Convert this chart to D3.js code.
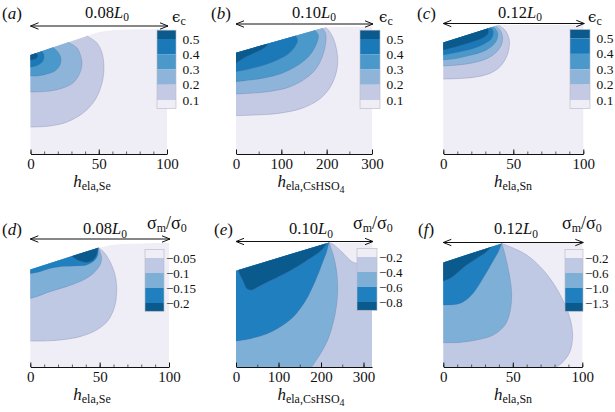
<!DOCTYPE html>
<html><head><meta charset="utf-8">
<script src="https://cdn.jsdelivr.net/npm/d3@7"></script>
<style>body{margin:0;background:#fff} text{font-family:"Liberation Serif","Times New Roman",serif;fill:#111}</style>
</head><body><svg id="c" width="615" height="412"></svg>
<script>
// ---------- colours ----------
const seqColors = ["#efedf5","#c5cae4","#8eb5d9","#4b98ca","#1b79b7","#0b5a8e"];
const negColors = ["#efedf5","#c0c9e4","#7eb0d7","#1f7fbf","#0b5a8e"];

// ---------- tick labels ----------
const xTicksA = [0,50,100], xTicksB = [0,100,200,300], xTicksC = [0,50,100];
const xTicksD = [0,50,100], xTicksE = [0,100,200,300], xTicksF = [0,50,100];
const cbLabelsA = ["0.5","0.4","0.3","0.2","0.1"];
const cbLabelsB = ["0.5","0.4","0.3","0.2","0.1"];
const cbLabelsC = ["0.5","0.4","0.3","0.2","0.1"];
const cbLabelsD = ["\u22120.05","\u22120.1","\u22120.15","\u22120.2"];
const cbLabelsE = ["\u22120.2","\u22120.4","\u22120.6","\u22120.8"];
const cbLabelsF = ["\u22120.2","\u22120.6","\u22121.0","\u22121.3"];
const spanLabels = ["0.08","0.10","0.12","0.08","0.10","0.12"];

// ---------- contour data: [h, normalised height] ----------
// (a) eps_c, Se
const domA = [[41.4,0.944],[50.9,0.976],[63.4,0.992],[80.2,0.998],[100,0.998]];
const cornA = [[100,0],[0,0],[0,0.792]];
const regA1 = [[41.4,0.944],[48.7,0.888],[52.4,0.808],[53.8,0.696],[52.4,0.568],[47.3,0.432],[38.5,0.328],[26.7,0.256],[14.3,0.224],[0,0.216]];
const regA2 = [[27.5,0.894],[34.1,0.848],[37.0,0.776],[37.7,0.712],[35.5,0.632],[31.1,0.568],[23.8,0.528],[14.3,0.504],[0,0.496]];
const regA3 = [[16.5,0.854],[20.1,0.816],[22.3,0.768],[21.6,0.712],[17.9,0.664],[12.1,0.640],[4.8,0.624],[0,0.624]];
const regA4 = [[8.4,0.822],[9.9,0.792],[9.2,0.744],[5.5,0.712],[1.1,0.696],[0,0.696]];
const regA5 = [[4.2,0.808],[5.5,0.784],[3.5,0.760],[0,0.750]];
// (b) eps_c, CsHSO4
const domB = [[196.3,1.013],[250,1.018],[300,1.018]];
const cornB = [[300,0],[0,0],[0,0.811]];
const regB1 = [[196.3,1.013],[203.7,0.992],[214.7,0.925],[222.1,0.832],[224.3,0.725],[218.4,0.619],[203.7,0.512],[181.6,0.432],[144.9,0.365],[93.4,0.325],[41.9,0.312],[0,0.307]];
const regB2 = [[190.4,1.008],[197.8,0.965],[197.8,0.885],[190.4,0.779],[174.3,0.672],[148.5,0.592],[115.4,0.533],[71.3,0.499],[27.2,0.485],[0,0.480]];
const regB3 = [[174.3,0.991],[181.6,0.952],[177.9,0.885],[163.2,0.792],[137.5,0.712],[100.7,0.645],[56.6,0.605],[19.9,0.587],[0,0.579]];
const regB4 = [[131.6,0.947],[136.0,0.912],[130.1,0.859],[111.8,0.792],[82.4,0.739],[49.3,0.699],[19.9,0.672],[0,0.659]];
const regB5 = [[71.3,0.884],[64.0,0.853],[41.9,0.811],[19.9,0.773],[5.1,0.739],[0,0.725]];
// (c) eps_c, Sn
const domC = [[39.3,1.032],[100,1.035]];
const cornC = [[100,0],[0,0],[0,0.893]];
const regC1 = [[39.3,1.032],[44.0,0.992],[46.9,0.925],[47.1,0.859],[45.2,0.779],[40.5,0.699],[33.3,0.645],[21.4,0.613],[9.5,0.603],[0,0.600]];
const regC2 = [[37.6,1.026],[40.9,0.987],[42.4,0.925],[40.9,0.859],[36.9,0.805],[29.8,0.757],[19.0,0.725],[7.1,0.709],[0,0.704]];
const regC3 = [[35.7,1.019],[38.6,0.979],[38.6,0.925],[35.7,0.872],[29.8,0.827],[20.2,0.792],[9.5,0.765],[0,0.752]];
const regC4 = [[34.0,1.013],[35.7,0.979],[34.5,0.925],[29.8,0.885],[21.4,0.845],[11.9,0.819],[0,0.792]];
const regC5 = [[32.1,1.006],[32.1,0.965],[27.4,0.925],[19.0,0.891],[9.5,0.859],[0,0.832]];
// (d) sigma_m, Se
const domD = [[49.0,0.955],[62.3,0.981],[79.1,0.989],[100,0.995]];
const cornD = [[100,0],[0,0],[0,0.781]];
const regD1 = [[49.0,0.955],[52.7,0.923],[57.5,0.843],[61.1,0.736],[62.3,0.629],[61.1,0.496],[56.3,0.376],[47.8,0.296],[35.8,0.243],[21.4,0.216],[9.4,0.208],[0,0.208]];
const regD2 = [[49.0,0.955],[50.2,0.923],[51.4,0.869],[50.2,0.816],[45.4,0.749],[38.2,0.696],[26.2,0.643],[14.2,0.603],[4.6,0.563],[0,0.549]];
const regD3 = [[49.0,0.955],[48.6,0.896],[46.6,0.856],[40.6,0.816],[31.0,0.808],[21.4,0.803],[14.2,0.789],[7.0,0.763],[0,0.747]];
const regD4 = [[49.0,0.955],[47.8,0.896],[45.4,0.856],[41.1,0.837],[35.8,0.848],[32.2,0.869],[29.8,0.887]];
// (e) sigma_m, CsHSO4
const domE = [[218.8,0.997],[320,0.997]];
const cornE = [[320,0],[0,0],[0,0.771]];
const regE1 = [[218.8,0.997],[229.0,0.981],[248.6,0.923],[276.1,0.837],[300,0.829],[320,0.829]];
const regE2 = [[218.8,0.997],[229.0,0.896],[236.9,0.763],[239.2,0.603],[232.9,0.416],[217.3,0.229],[201.6,0.123],[178.0,0]];
const regE3 = [[218.8,0.997],[213.3,0.923],[201.6,0.816],[185.9,0.683],[162.3,0.523],[131.0,0.389],[83.9,0.283],[36.9,0.229],[0,0.208]];
const regE4 = [[213.3,0.991],[201.6,0.936],[162.3,0.843],[123.1,0.763],[83.9,0.696],[52.5,0.643],[36.9,0.616],[25.1,0.629],[17.3,0.683],[9.4,0.736],[5.5,0.776]];
// (f) sigma_m, Sn
const domF = [[42.0,0.989],[100,0.992]];
const cornF = [[100,0],[0,0],[0,0.837]];
const regF1 = [[42.0,0.989],[48.0,0.963],[60.0,0.896],[71.9,0.776],[81.5,0.629],[88.7,0.469],[92.3,0.336],[93.0,0.229],[91.1,0.123],[86.3,0.043],[81.5,0]];
const regF2 = [[42.0,0.989],[43.2,0.949],[45.6,0.843],[48.0,0.709],[49.2,0.576],[48.0,0.443],[44.4,0.336],[36.0,0.256],[24.0,0.216],[12.0,0.197],[0,0.195]];
const regF3 = [[42.0,0.989],[39.6,0.923],[34.8,0.829],[30.0,0.736],[24.0,0.629],[19.2,0.563],[12.0,0.509],[0,0.496]];
const regF4 = [[34.8,0.963],[31.2,0.923],[24.0,0.869],[16.8,0.816],[9.6,0.749],[4.8,0.709],[0,0.688]];

// ---------- layout ----------
const svg = d3.select("#c");
const panels = [
 {L:"a",xd:[0,100],xr:[30.5,167],yr:[154,29],ticks:xTicksA,minor:10,dom:domA,corn:cornA,
  regs:[[regA1,[[0,0.792]]],[regA2,[[0,0.792]]],[regA3,[[0,0.792]]],[regA4,[[0,0.792]]],[regA5,[[0,0.792]]]],
  colors:seqColors,cbx:157,cbw:19,cbr:[39,100],cbl:cbLabelsA,sym:"eps",symx:172,
  sub:"ela,Se",lx:92,arrowY:26,titleX:107,row:0},
 {L:"b",xd:[0,300],xr:[236,372],yr:[154,29],ticks:xTicksB,minor:50,dom:domB,corn:cornB,
  regs:[[regB1,[[0,0.811]]],[regB2,[[0,0.811]]],[regB3,[[0,0.811]]],[regB4,[[0,0.811]]],[regB5,[[0,0.811]]]],
  colors:seqColors,cbx:360,cbw:20,cbr:[39,100],cbl:cbLabelsB,sym:"eps",symx:379,
  sub:"ela,CsHSO",sub2:"4",lx:311,arrowY:24,titleX:314,row:0},
 {L:"c",xd:[0,100],xr:[443.3,583.3],yr:[154,29],ticks:xTicksC,minor:10,dom:domC,corn:cornC,
  regs:[[regC1,[[0,0.893]]],[regC2,[[0,0.893]]],[regC3,[[0,0.893]]],[regC4,[[0,0.893]]],[regC5,[[0,0.893]]]],
  colors:seqColors,cbx:570,cbw:20,cbr:[38.5,100],cbl:cbLabelsC,sym:"eps",symx:588,
  sub:"ela,Sn",lx:513,arrowY:23.5,titleX:520,row:0},
 {L:"d",xd:[0,100],xr:[30.3,169],yr:[367,242],ticks:xTicksD,minor:10,dom:domD,corn:cornD,
  regs:[[regD1,[[0,0.781]]],[regD2,[[0,0.781]]],[regD3,[[0,0.781]]],[regD4,[]]],
  colors:negColors,cbx:145,cbw:19,cbr:[258,303],cbl:cbLabelsD,sym:"sig",symx:147,
  sub:"ela,Se",lx:92,arrowY:239,titleX:105,row:1},
 {L:"e",xd:[0,320],xr:[236,372],yr:[367,242],ticks:xTicksE,minor:50,dom:domE,corn:cornE,
  regs:[[regE1,[[320,0],[0,0],[0,0.771]]],[regE2,[[0,0],[0,0.771]]],[regE3,[[0,0.771]]],[regE4,[]]],
  colors:negColors,cbx:357,cbw:20,cbr:[257,302],cbl:cbLabelsE,sym:"sig",symx:353,
  sub:"ela,CsHSO",sub2:"4",lx:311,arrowY:241.5,titleX:311,row:1},
 {L:"f",xd:[0,100],xr:[443.3,582.3],yr:[367,242],ticks:xTicksF,minor:10,dom:domF,corn:cornF,
  regs:[[regF1,[[0,0],[0,0.837]]],[regF2,[[0,0.837]]],[regF3,[[0,0.837]]],[regF4,[[0,0.837]]]],
  colors:negColors,cbx:565,cbw:18,cbr:[258,303],cbl:cbLabelsF,sym:"sig",symx:562,
  sub:"ela,Sn",lx:513,arrowY:242.5,titleX:516,row:1}
];

function pathOf(x,y,curve,edges){
  const ln = d3.line().x(d=>x(d[0])).y(d=>y(d[1])).curve(d3.curveCatmullRom.alpha(0.5));
  let p = ln(curve);
  edges.forEach(e=>{p += "L"+x(e[0])+","+y(e[1]);});
  return p+"Z";
}

panels.forEach((P,pi)=>{
  const g = svg.append("g");
  const x = d3.scaleLinear().domain(P.xd).range(P.xr);
  const y = d3.scaleLinear().domain([0,1]).range(P.yr);
  const cl = d3.line().x(d=>x(d[0])).y(d=>y(d[1])).curve(d3.curveCatmullRom.alpha(0.5));
  // domain
  g.append("path").attr("d",pathOf(x,y,P.dom,P.corn)).attr("fill",P.colors[0]);
  P.regs.forEach((r,i)=>{
    g.append("path").attr("d",pathOf(x,y,r[0],r[1])).attr("fill",P.colors[i+1]);
    g.append("path").attr("d",cl(r[0])).attr("fill","none")
      .attr("stroke","#5a6a98").attr("stroke-opacity",0.45).attr("stroke-width",0.6);
  });
  // axis
  const base = P.yr[0];
  const ax = g.append("g").attr("transform",`translate(0,${base})`);
  const minorVals = d3.range(P.xd[0], P.xd[1]+1e-9, P.minor);
  ax.append("g").call(d3.axisBottom(x).tickValues(minorVals).tickSize(-2.5).tickFormat(""))
    .call(s=>s.select(".domain").remove()).selectAll("line").attr("stroke","#222").attr("stroke-width",0.7);
  const mj = ax.append("g").call(d3.axisBottom(x).tickValues(P.ticks).tickSizeInner(-4.5).tickSizeOuter(0).tickPadding(4));
  mj.select(".domain").attr("stroke","#111").attr("stroke-width",1);
  mj.selectAll("line").attr("stroke","#111");
  mj.selectAll("text").attr("font-size",15).attr("font-family","Liberation Serif").attr("fill","#111");
  // x label
  const xl = g.append("text").attr("x",P.lx).attr("y",base+(P.row?33:32.5)).attr("text-anchor","middle");
  xl.append("tspan").text("h").attr("font-style","italic").attr("font-size",17);
  xl.append("tspan").text(P.sub).attr("font-size",12).attr("dy",3);
  if(P.sub2) xl.append("tspan").text(P.sub2).attr("font-size",10).attr("dy",3);
  // arrow
  const ay = P.arrowY, x1 = P.xr[0], x2 = P.xr[1]+1;
  g.append("line").attr("x1",x1).attr("x2",x2).attr("y1",ay).attr("y2",ay).attr("stroke","#111").attr("stroke-width",1);
  g.append("path").attr("d",`M${x1+8},${ay-3.2}L${x1},${ay}L${x1+8},${ay+3.2}`).attr("fill","none").attr("stroke","#111").attr("stroke-width",1);
  g.append("path").attr("d",`M${x2-8},${ay-3.2}L${x2},${ay}L${x2-8},${ay+3.2}`).attr("fill","none").attr("stroke","#111").attr("stroke-width",1);
  // title
  const tY = P.row ? 234 : 17.5;
  const t = g.append("text").attr("x",P.titleX).attr("y",tY).attr("text-anchor","middle").attr("font-size",16.5);
  t.append("tspan").text(spanLabels[pi]);
  t.append("tspan").text("L").attr("font-style","italic");
  t.append("tspan").text("0").attr("font-size",11.5).attr("dy",3.5);
  // panel letter
  const lx = [2,211,417,2,214,418][pi];
  const lt = g.append("text").attr("x",lx).attr("y",tY+1).attr("font-size",17);
  lt.append("tspan").text("(");
  lt.append("tspan").text(P.L).attr("font-style","italic");
  lt.append("tspan").text(")");
  // colour bar
  const n = P.cbl.length;
  const cy = d3.scaleLinear().domain([0,n-1]).range(P.cbr);
  const cells = P.row ? P.colors.slice() : P.colors.slice().reverse();
  cells.forEach((c,i)=>{
    const top = i===0 ? cy(-0.58) : cy(i-1);
    const bot = i===n ? cy(n-1+0.55) : cy(i);
    g.append("rect").attr("x",P.cbx).attr("y",top).attr("width",P.cbw).attr("height",bot-top).attr("fill",c);
  });
  g.append("rect").attr("x",P.cbx).attr("y",cy(-0.58)).attr("width",P.cbw).attr("height",cy(n-1+0.55)-cy(-0.58))
    .attr("fill","none").attr("stroke","#b8b8c4").attr("stroke-width",0.6);
  P.cbl.forEach((s,i)=>{
    g.append("text").attr("x",P.cbx+P.cbw+(P.row?2:6.5)).attr("y",cy(i)+4.5)
      .attr("font-size",P.row?13:13.5).text(s);
  });
  // colour bar title
  if(P.sym==="eps"){
    const st = g.append("text").attr("x",P.symx).attr("y",22).attr("font-size",17);
    st.append("tspan").text("\u03f5").attr("font-family","DejaVu Serif").attr("font-size",15);
    st.append("tspan").text("c").attr("font-size",12).attr("dy",3);
  } else {
    const st = g.append("text").attr("x",P.symx).attr("y",229).attr("font-size",18);
    st.append("tspan").text("\u03c3");
    st.append("tspan").text("m").attr("font-size",12).attr("dy",3);
    st.append("tspan").text("/\u03c3").attr("dy",-3);
    st.append("tspan").text("0").attr("font-size",12).attr("dy",3);
  }
});
</script></body></html>
